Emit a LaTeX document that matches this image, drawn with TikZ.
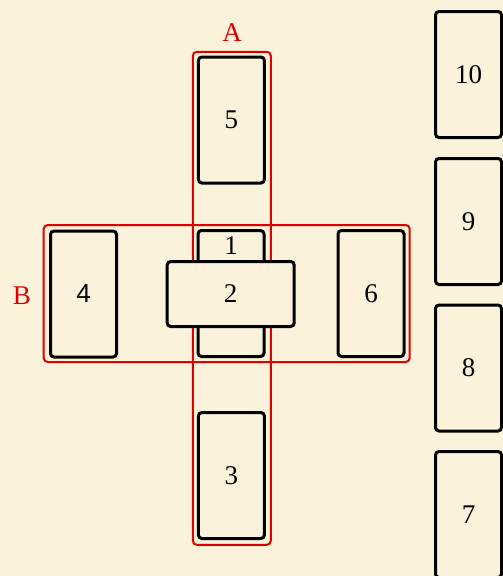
\documentclass[tikz,border=0pt]{standalone}
\usepackage{fontspec}
\setmainfont{Liberation Serif}
\newfontfamily\cardsans{Liberation Sans}
\definecolor{parch}{RGB}{250,242,218}
\definecolor{markred}{RGB}{225,0,0}
\begin{document}
\begin{tikzpicture}[x=1pt,y=-1pt,
  card/.style={draw=black, line width=3pt, rounded corners=3.5pt, fill=parch,
    minimum width=66pt, minimum height=126pt, inner sep=0pt,
    font=\fontsize{27}{30}\selectfont},
  wide/.style={card, minimum width=127pt, minimum height=65pt},
  grp/.style={draw=markred, line width=2pt, rounded corners=4pt, inner sep=0pt},
  grplabel/.style={text=markred, font=\fontsize{27}{30}\selectfont, inner sep=0pt},
  txt/.style={font=\fontsize{27}{30}\selectfont, inner sep=0pt}]
\fill[parch] (0,0) rectangle (503,576);
\useasboundingbox (0,0) rectangle (503,576);
% groups
\node[grp, minimum width=78pt, minimum height=493pt] (A) at (231.8,298.3) {};
\node[grp, minimum width=366pt, minimum height=137pt] (B) at (226.7,293.5) {};
\node[grplabel] (la) at (232,33) {A};
\node[grplabel] (lb) at (22,296) {B};
% cross
\node[card] (c5) at (231.4,120) {5};
\node[card] (c3) at (231.4,475.5) {3};
\node[card] (c1) at (231,293.5) {};
\node[txt] (t1) at (231,246) {1};
\node[wide] (c2) at (230.7,294) {2};
\node[card, font=\cardsans\fontsize{26}{30}\selectfont] (c4) at (83.5,294) {4};
\node[card] (c6) at (371,293.5) {6};
% staff
\node[card] (c10) at (468.5,74.5) {10};
\node[card] (c9) at (468.5,221.5) {9};
\node[card] (c8) at (468.5,368) {8};
\node[card] (c7) at (468.5,514.5) {7};
\end{tikzpicture}
\end{document}
